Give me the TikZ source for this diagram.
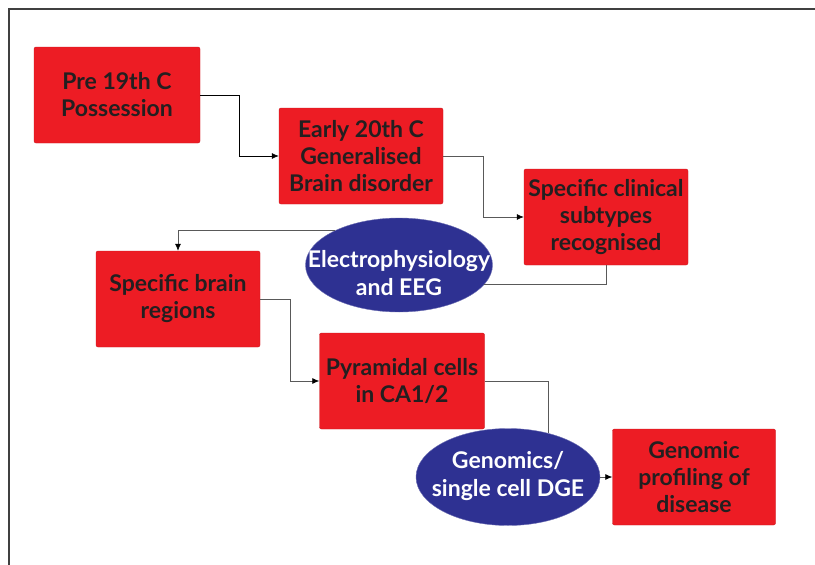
\documentclass[tikz,border=0pt]{standalone}
\usepackage{fontspec}
\setmainfont{Lato}
\usetikzlibrary{arrows.meta, shapes.geometric}
\definecolor{boxred}{HTML}{ED1C24}
\definecolor{ovalblue}{HTML}{2E3192}
\definecolor{inkgray}{HTML}{231F20}

\begin{document}
\begin{tikzpicture}[x=1pt, y=-1pt,
		stage/.style={draw=boxred!85!black, line width=0.4pt, fill=boxred, rounded corners=2pt,
			minimum width=164pt, minimum height=96pt, inner sep=0pt, align=center, text=inkgray,
			font=\bfseries\fontsize{23}{27}\selectfont},
		method/.style={ellipse, draw=ovalblue!70, line width=0.4pt, fill=ovalblue, inner sep=0pt},
		methodtext/.style={align=center, text=white, inner sep=0pt, font=\bfseries\fontsize{23}{27.5}\selectfont},
		link/.style={draw=gray!70!black, line width=0.7pt},
		arrowlink/.style={link, -{Latex[length=7pt, width=6pt, color=black]}}]
			\useasboundingbox (0, 0) rectangle (815, 565);
			% Frame (cut at right and bottom)
			\draw[line width=1.3pt, black!75] (9, 565) -- (9, 9) -- (815, 9);
			% Stages
			\node[stage, minimum width=166pt] (pre) at (117, 95) {Pre 19th C\\Possession};
			\node[stage] (early) at (361, 156) {Early 20th C\\Generalised\\Brain disorder};
			\node[stage] (clinical) at (606, 217) {Specific clinical\\subtypes\\recognised};
			\node[stage] (regions) at (178, 299) {Specific brain\\regions};
			\node[stage, minimum width=165pt] (pyramidal) at (402, 381) {Pyramidal cells\\in CA1/2};
			\node[stage, minimum width=163pt] (profiling) at (694, 477) {Genomic\\profiling of\\disease};
			% Methods (ellipse and its text apart, so the text may run over the rim)
			\node[method, minimum width=187pt, minimum height=94pt] (eeg) at (399, 265) {};
			\node[methodtext] (eegtext) at (399, 273) {Electrophysiology\\and EEG};
			\node[method, minimum width=184pt, minimum height=97pt] (genomics) at (508, 477) {};
			\node[methodtext] (genomicstext) at (508, 476) {Genomics/\\single cell DGE};
			% Links
			\draw[arrowlink, draw=black] (pre.east) -- ++(39, 0) |- (early.west);
			\draw[arrowlink] (early.east) -- ++(40, 0) |- (clinical.west);
			\draw[link] (clinical.south) |- (eeg.-13);
			\draw[arrowlink] (eeg.152) -| (regions.north);
			\draw[arrowlink] (regions.east) -- ++(30, 0) |- (pyramidal.west);
			\draw[link] (pyramidal.east) -| (genomics.47);
			\draw[arrowlink] (genomics.east) -- (profiling.west);
		\end{tikzpicture}
\end{document}
